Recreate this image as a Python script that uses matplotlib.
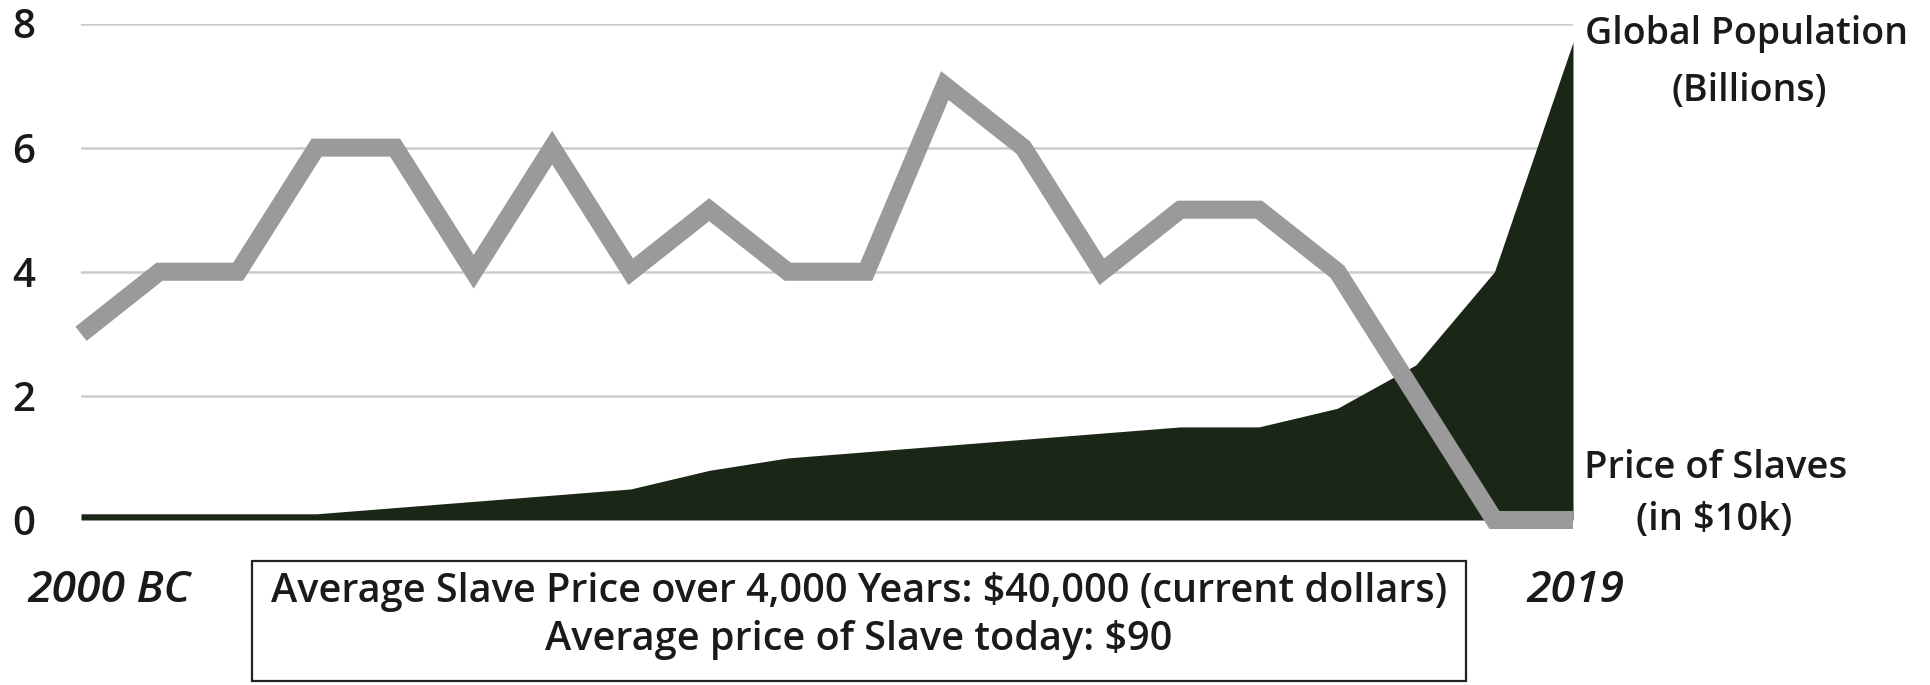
import matplotlib
matplotlib.use("Agg")
import matplotlib.pyplot as plt
from matplotlib.patches import Rectangle

# ---- data ----
price_of_slaves = [3, 4, 4, 6, 6, 4, 6, 4, 5, 4, 4, 7, 6, 4, 5, 5, 4, 2, 0, 0]
global_population = [0.1, 0.1, 0.1, 0.1, 0.2, 0.3, 0.4, 0.5, 0.8, 1.0, 1.1, 1.2,
                     1.3, 1.4, 1.5, 1.5, 1.8, 2.5, 4.0, 7.7]
y_ticks = [0, 2, 4, 6, 8]
start_label = "2000 BC"
end_label = "2019"
pop_label = ["Global Population", "(Billions)"]
price_label = ["Price of Slaves", "(in $10k)"]
box_lines = ["Average Slave Price over 4,000 Years: $40,000 (current dollars)",
             "Average price of Slave today: $90"]

FONT = ["Open Sans", "DejaVu Sans"]
TXT = "#1a1a1a"
W, H = 1931, 685
fig = plt.figure(figsize=(W / 100, H / 100), dpi=100)

def fx(px):
    return px / W

def fy(py):
    return 1 - py / H

left, right, top, bottom = 81, 1573, 23.5, 520
ax = fig.add_axes([fx(left), fy(bottom), fx(right) - fx(left), fy(top) - fy(bottom)])

x = list(range(len(price_of_slaves)))
ax.fill_between(x, global_population, 0, color="#1a2616", linewidth=0, zorder=2)
ax.plot(x, price_of_slaves, color="#9a9a9a", linewidth=13, solid_joinstyle="miter",
        solid_capstyle="butt", zorder=3, clip_on=False)

ax.set_xlim(0, len(x) - 1)
ax.set_ylim(0, 8)
ax.set_yticks(y_ticks)
ax.set_yticklabels([str(v) for v in y_ticks], fontsize=29, fontweight="semibold",
                   family=FONT, color=TXT)
ax.tick_params(axis="y", length=0, pad=33)
ax.set_xticks([])
ax.grid(axis="y", color="#cccccc", linewidth=1.8, zorder=0)
ax.set_axisbelow(True)
for s in ax.spines.values():
    s.set_visible(False)

common = dict(ha="center", va="center", fontweight="semibold", family=FONT, color=TXT)

# right side labels
fig.text(fx(1747), fy(34), pop_label[0], fontsize=27, **common)
fig.text(fx(1749), fy(91), pop_label[1], fontsize=27, **common)
fig.text(fx(1716), fy(468), price_label[0], fontsize=27.5, **common)
fig.text(fx(1714), fy(520), price_label[1], fontsize=27.5, **common)

# bottom labels
fig.text(fx(109), fy(591), start_label, fontsize=32, fontstyle="italic", **common)
fig.text(fx(1575), fy(591), end_label, fontsize=32, fontstyle="italic", **common)

# box
fig.patches.append(Rectangle((fx(252), fy(681)), fx(1466) - fx(252), fy(561) - fy(681),
                             transform=fig.transFigure, fill=False, edgecolor="#222222",
                             linewidth=1.6))
fig.text(fx(859), fy(592), box_lines[0], fontsize=28.5, **common)
fig.text(fx(859), fy(640), box_lines[1], fontsize=28.5, **common)

fig.savefig("out.png", dpi=100)
